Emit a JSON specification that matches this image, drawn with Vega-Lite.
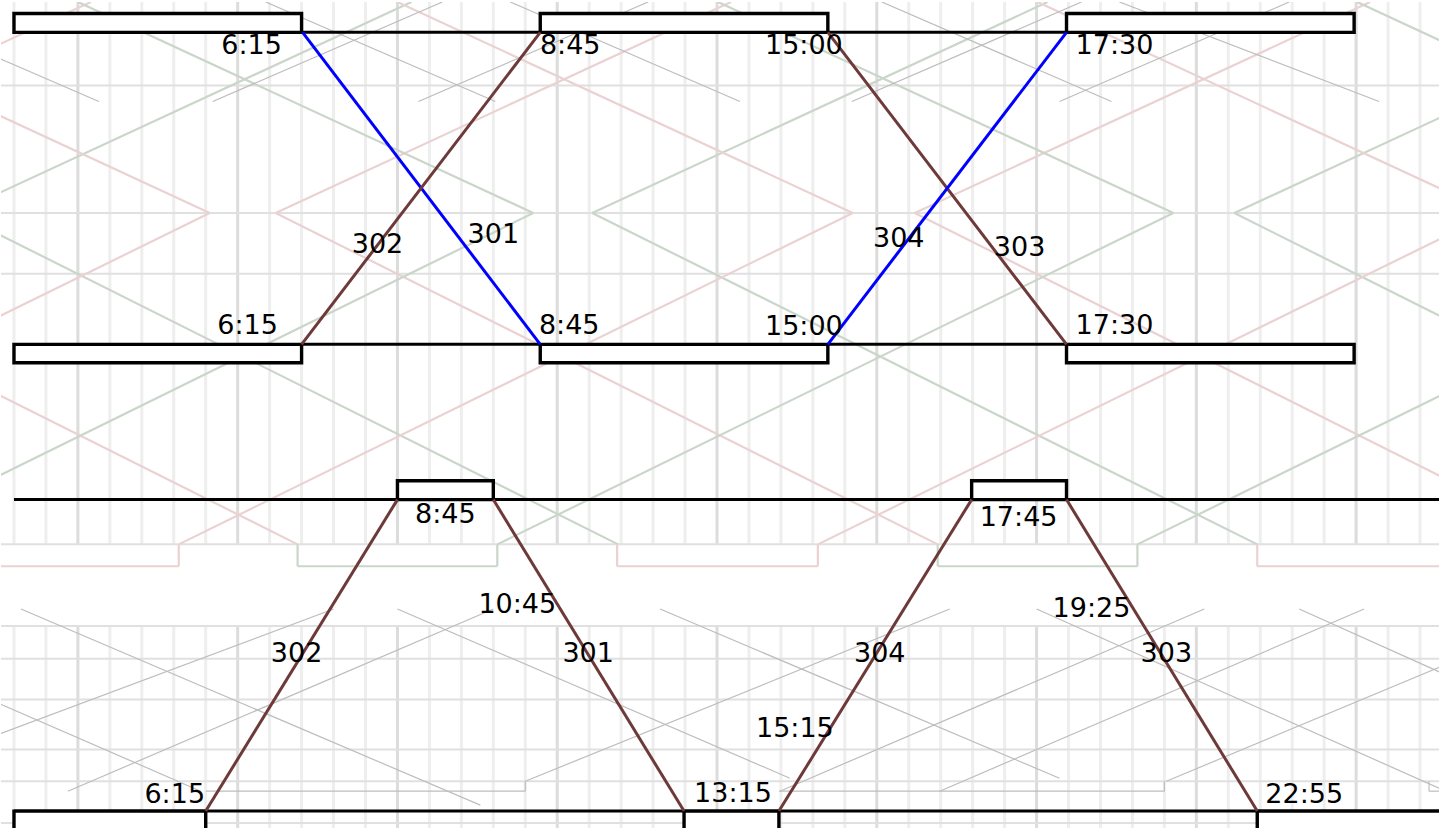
{
  "$schema": "https://vega.github.io/schema/vega-lite/v6.json",
  "width": 1440,
  "height": 830,
  "padding": 0,
  "autosize": {"type": "fit", "contains": "padding"},
  "background": "white",
  "config": {"view": {"stroke": null}},
  "resolve": {"scale": {"color": "independent"}},
  "datasets": {
    "vlight": [
      {"x":13,"y":0,"y2":545},{"x":45,"y":0,"y2":545},{"x":109,"y":0,"y2":545},{"x":141,"y":0,"y2":545},{"x":173,"y":0,"y2":545},{"x":205,"y":0,"y2":545},{"x":269,"y":0,"y2":545},{"x":301,"y":0,"y2":545},{"x":333,"y":0,"y2":545},{"x":365,"y":0,"y2":545},{"x":429,"y":0,"y2":545},{"x":461,"y":0,"y2":545},{"x":493,"y":0,"y2":545},{"x":525,"y":0,"y2":545},{"x":589,"y":0,"y2":545},{"x":621,"y":0,"y2":545},{"x":653,"y":0,"y2":545},{"x":685,"y":0,"y2":545},{"x":749,"y":0,"y2":545},{"x":781,"y":0,"y2":545},{"x":813,"y":0,"y2":545},{"x":845,"y":0,"y2":545},{"x":909,"y":0,"y2":545},{"x":941,"y":0,"y2":545},{"x":973,"y":0,"y2":545},{"x":1005,"y":0,"y2":545},{"x":1069,"y":0,"y2":545},{"x":1101,"y":0,"y2":545},{"x":1133,"y":0,"y2":545},{"x":1165,"y":0,"y2":545},{"x":1229,"y":0,"y2":545},{"x":1261,"y":0,"y2":545},{"x":1293,"y":0,"y2":545},{"x":1325,"y":0,"y2":545},{"x":1389,"y":0,"y2":545},{"x":1421,"y":0,"y2":545},
      {"x":13,"y":627,"y2":830},{"x":45,"y":627,"y2":830},{"x":109,"y":627,"y2":830},{"x":141,"y":627,"y2":830},{"x":173,"y":627,"y2":830},{"x":205,"y":627,"y2":830},{"x":269,"y":627,"y2":830},{"x":301,"y":627,"y2":830},{"x":333,"y":627,"y2":830},{"x":365,"y":627,"y2":830},{"x":429,"y":627,"y2":830},{"x":461,"y":627,"y2":830},{"x":493,"y":627,"y2":830},{"x":525,"y":627,"y2":830},{"x":589,"y":627,"y2":830},{"x":621,"y":627,"y2":830},{"x":653,"y":627,"y2":830},{"x":685,"y":627,"y2":830},{"x":749,"y":627,"y2":830},{"x":781,"y":627,"y2":830},{"x":813,"y":627,"y2":830},{"x":845,"y":627,"y2":830},{"x":909,"y":627,"y2":830},{"x":941,"y":627,"y2":830},{"x":973,"y":627,"y2":830},{"x":1005,"y":627,"y2":830},{"x":1069,"y":627,"y2":830},{"x":1101,"y":627,"y2":830},{"x":1133,"y":627,"y2":830},{"x":1165,"y":627,"y2":830},{"x":1229,"y":627,"y2":830},{"x":1261,"y":627,"y2":830},{"x":1293,"y":627,"y2":830},{"x":1325,"y":627,"y2":830},{"x":1389,"y":627,"y2":830},{"x":1421,"y":627,"y2":830}
    ],
    "vdark": [
      {"x":77,"y":0,"y2":545},{"x":237,"y":0,"y2":545},{"x":397,"y":0,"y2":545},{"x":557,"y":0,"y2":545},{"x":717,"y":0,"y2":545},{"x":877,"y":0,"y2":545},{"x":1037,"y":0,"y2":545},{"x":1197,"y":0,"y2":545},{"x":1357,"y":0,"y2":545},
      {"x":77,"y":627,"y2":830},{"x":237,"y":627,"y2":830},{"x":397,"y":627,"y2":830},{"x":557,"y":627,"y2":830},{"x":717,"y":627,"y2":830},{"x":877,"y":627,"y2":830},{"x":1037,"y":627,"y2":830},{"x":1197,"y":627,"y2":830},{"x":1357,"y":627,"y2":830}
    ],
    "hgrid": [
      {"x":0,"x2":1440,"y":84,"y2":84},{"x":0,"x2":1440,"y":212,"y2":212},{"x":0,"x2":1440,"y":273,"y2":273},{"x":0,"x2":1440,"y":545,"y2":545},
      {"x":0,"x2":1440,"y":627,"y2":627},{"x":0,"x2":1440,"y":660,"y2":660},{"x":0,"x2":1440,"y":701,"y2":701},{"x":0,"x2":1440,"y":751,"y2":751},{"x":0,"x2":1440,"y":783,"y2":783},{"x":0,"x2":1440,"y":825,"y2":825}
    ],
    "bg": [
      {"x":-366,"y":212,"x2":90,"y2":0,"c":"pink"},
      {"x":-366,"y":212,"x2":297,"y2":545,"c":"pink"},
      {"x":-45,"y":212,"x2":411,"y2":0,"c":"green"},
      {"x":-45,"y":212,"x2":618,"y2":545,"c":"green"},
      {"x":-247,"y":0,"x2":209,"y2":212,"c":"pink"},
      {"x":275,"y":212,"x2":731,"y2":0,"c":"pink"},
      {"x":-466,"y":545,"x2":209,"y2":212,"c":"pink"},
      {"x":275,"y":212,"x2":938,"y2":545,"c":"pink"},
      {"x":77,"y":0,"x2":533,"y2":212,"c":"green"},
      {"x":592,"y":212,"x2":1048,"y2":0,"c":"green"},
      {"x":-142,"y":545,"x2":533,"y2":212,"c":"green"},
      {"x":592,"y":212,"x2":1258,"y2":545,"c":"green"},
      {"x":397,"y":0,"x2":853,"y2":212,"c":"pink"},
      {"x":915,"y":212,"x2":1371,"y2":0,"c":"pink"},
      {"x":178,"y":545,"x2":853,"y2":212,"c":"pink"},
      {"x":915,"y":212,"x2":1578,"y2":545,"c":"pink"},
      {"x":718,"y":0,"x2":1174,"y2":212,"c":"green"},
      {"x":1235,"y":212,"x2":1691,"y2":0,"c":"green"},
      {"x":497,"y":545,"x2":1174,"y2":212,"c":"green"},
      {"x":1235,"y":212,"x2":1898,"y2":545,"c":"green"},
      {"x":1038,"y":0,"x2":1494,"y2":212,"c":"pink"},
      {"x":818,"y":545,"x2":1494,"y2":212,"c":"pink"},
      {"x":1358,"y":0,"x2":1814,"y2":212,"c":"green"},
      {"x":1138,"y":545,"x2":1814,"y2":212,"c":"green"},
      {"x":-23,"y":567,"x2":178,"y2":567,"c":"pink"},
      {"x":178,"y":567,"x2":178,"y2":545,"c":"pink"},
      {"x":297,"y":545,"x2":297,"y2":567,"c":"green"},
      {"x":297,"y":567,"x2":497,"y2":567,"c":"green"},
      {"x":497,"y":567,"x2":497,"y2":545,"c":"green"},
      {"x":617,"y":545,"x2":617,"y2":567,"c":"pink"},
      {"x":617,"y":567,"x2":818,"y2":567,"c":"pink"},
      {"x":818,"y":567,"x2":818,"y2":545,"c":"pink"},
      {"x":938,"y":545,"x2":938,"y2":567,"c":"green"},
      {"x":938,"y":567,"x2":1138,"y2":567,"c":"green"},
      {"x":1138,"y":567,"x2":1138,"y2":545,"c":"green"},
      {"x":1258,"y":545,"x2":1258,"y2":567,"c":"pink"},
      {"x":1258,"y":567,"x2":1458,"y2":567,"c":"pink"}
    ],
    "gray": [
      {"x":-132,"y":0,"x2":98,"y2":100},
      {"x":265,"y":0,"x2":495,"y2":100},
      {"x":510,"y":0,"x2":740,"y2":100},
      {"x":882,"y":0,"x2":1112,"y2":100},
      {"x":1120,"y":0,"x2":1380,"y2":100},
      {"x":212,"y":100,"x2":442,"y2":0},
      {"x":418,"y":100,"x2":648,"y2":0},
      {"x":852,"y":100,"x2":1082,"y2":0},
      {"x":1060,"y":100,"x2":1290,"y2":0},
      {"x":20,"y":610,"x2":480,"y2":807},
      {"x":397,"y":610,"x2":790,"y2":780},
      {"x":660,"y":610,"x2":1060,"y2":780},
      {"x":1037,"y":610,"x2":1440,"y2":790},
      {"x":1300,"y":610,"x2":1700,"y2":790},
      {"x":-220,"y":610,"x2":200,"y2":793},
      {"x":0,"y":735,"x2":333,"y2":610},
      {"x":67,"y":793,"x2":493,"y2":610},
      {"x":525,"y":783,"x2":950,"y2":610},
      {"x":780,"y":793,"x2":1205,"y2":610},
      {"x":940,"y":793,"x2":1365,"y2":610},
      {"x":1167,"y":783,"x2":1580,"y2":610},
      {"x":205,"y":793,"x2":525,"y2":793},
      {"x":525,"y":793,"x2":525,"y2":783},
      {"x":779,"y":793,"x2":1165,"y2":793},
      {"x":1165,"y":793,"x2":1165,"y2":783},
      {"x":1430,"y":783,"x2":1430,"y2":793},
      {"x":1430,"y":793,"x2":1440,"y2":793}
    ],
    "tracks": [
      {"x":301,"y":30.5,"x2":540,"y2":30.5},
      {"x":828,"y":30.5,"x2":1067,"y2":30.5},
      {"x":301,"y":344,"x2":540,"y2":344},
      {"x":828,"y":344,"x2":1067,"y2":344},
      {"x":13,"y":500,"x2":1440,"y2":500},
      {"x":13,"y":813,"x2":1440,"y2":813}
    ],
    "boxes": [
      {"x":13,"x2":301,"y":11.5,"y2":30.5},
      {"x":540,"x2":828,"y":11.5,"y2":30.5},
      {"x":1067,"x2":1355,"y":11.5,"y2":30.5},
      {"x":13,"x2":301,"y":344,"y2":362.5},
      {"x":540,"x2":828,"y":344,"y2":362.5},
      {"x":1067,"x2":1355,"y":344,"y2":362.5},
      {"x":397,"x2":493,"y":481,"y2":500},
      {"x":972,"x2":1067,"y":481,"y2":500},
      {"x":13,"x2":205,"y":813,"y2":850},
      {"x":684,"x2":779,"y":813,"y2":850},
      {"x":1258,"x2":1470,"y":813,"y2":850}
    ],
    "trains": [
      {"train":"301","x":302,"y":30.5,"x2":540,"y2":344,"c":"blue"},
      {"train":"302","x":301,"y":344,"x2":540,"y2":30.5,"c":"brown"},
      {"train":"303","x":828,"y":30.5,"x2":1067,"y2":344,"c":"brown"},
      {"train":"304","x":828,"y":344,"x2":1067,"y2":30.5,"c":"blue"},
      {"train":"302","x":205,"y":813,"x2":397,"y2":500,"c":"brown"},
      {"train":"301","x":493,"y":500,"x2":684,"y2":813,"c":"brown"},
      {"train":"304","x":779,"y":813,"x2":972,"y2":500,"c":"brown"},
      {"train":"303","x":1067,"y":500,"x2":1258,"y2":813,"c":"brown"}
    ],
    "labels": [
      {"t":"6:15","x":251,"y":44},
      {"t":"8:45","x":570,"y":44},
      {"t":"15:00","x":804,"y":44},
      {"t":"17:30","x":1115,"y":44},
      {"t":"6:15","x":247,"y":326},
      {"t":"8:45","x":569,"y":326},
      {"t":"15:00","x":804,"y":327},
      {"t":"17:30","x":1115,"y":326},
      {"t":"302","x":377,"y":244},
      {"t":"301","x":493,"y":234},
      {"t":"304","x":899,"y":238},
      {"t":"303","x":1020,"y":247},
      {"t":"8:45","x":445,"y":515},
      {"t":"17:45","x":1019,"y":518},
      {"t":"10:45","x":517,"y":606},
      {"t":"302","x":296,"y":655},
      {"t":"301","x":588,"y":655},
      {"t":"304","x":880,"y":655},
      {"t":"303","x":1167,"y":655},
      {"t":"19:25","x":1092,"y":610},
      {"t":"15:15","x":795,"y":731},
      {"t":"6:15","x":174,"y":797},
      {"t":"13:15","x":733,"y":796},
      {"t":"22:55","x":1305,"y":797}
    ]
  },
  "encoding": {
    "x": {"field": "x", "type": "quantitative", "scale": {"domain": [0, 1440], "nice": false, "zero": false}, "axis": null},
    "y": {"field": "y", "type": "quantitative", "scale": {"domain": [0, 830], "reverse": true, "nice": false, "zero": false}, "axis": null}
  },
  "layer": [
    {"data": {"name": "vlight"}, "mark": {"type": "rule", "color": "#eeeeee", "strokeWidth": 3},
     "encoding": {"y2": {"field": "y2"}}},
    {"data": {"name": "vdark"}, "mark": {"type": "rule", "color": "#dcdcdc", "strokeWidth": 3},
     "encoding": {"y2": {"field": "y2"}}},
    {"data": {"name": "hgrid"}, "mark": {"type": "rule", "color": "#e0e0e0", "strokeWidth": 2},
     "encoding": {"x2": {"field": "x2"}, "y2": {"field": "y2"}}},
    {"data": {"name": "bg"}, "mark": {"type": "rule", "strokeWidth": 2.2, "clip": true},
     "encoding": {"x2": {"field": "x2"}, "y2": {"field": "y2"},
       "color": {"field": "c", "type": "nominal", "scale": {"domain": ["pink", "green"], "range": ["#ead2d2", "#cad6ca"]}, "legend": null}}},
    {"data": {"name": "gray"}, "mark": {"type": "rule", "strokeWidth": 1.2, "color": "#bdbdbd", "clip": true},
     "encoding": {"x2": {"field": "x2"}, "y2": {"field": "y2"}}},
    {"data": {"name": "tracks"}, "mark": {"type": "rule", "strokeWidth": 3, "color": "#000000", "clip": true},
     "encoding": {"x2": {"field": "x2"}, "y2": {"field": "y2"}}},
    {"data": {"name": "boxes"}, "mark": {"type": "rect", "fill": "#ffffff", "stroke": "#000000", "strokeWidth": 3.4, "clip": true},
     "encoding": {"x2": {"field": "x2"}, "y2": {"field": "y2"}}},
    {"data": {"name": "trains"}, "mark": {"type": "rule", "strokeWidth": 3, "clip": true},
     "encoding": {"x2": {"field": "x2"}, "y2": {"field": "y2"},
       "color": {"field": "c", "type": "nominal", "scale": {"domain": ["blue", "brown"], "range": ["#0000ff", "#6e3939"]}, "legend": null}}},
    {"data": {"name": "labels"}, "mark": {"type": "text", "font": "DejaVu Sans", "fontSize": 27, "color": "#000000", "align": "center", "baseline": "middle"},
     "encoding": {"text": {"field": "t"}}}
  ]
}
